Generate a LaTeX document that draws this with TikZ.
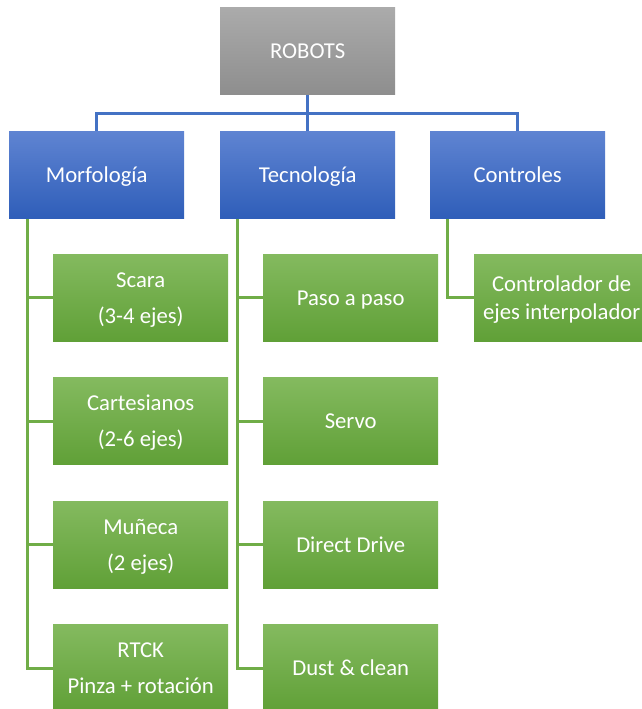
\documentclass[tikz,border=0pt]{standalone}
\usepackage{fontspec}
\usetikzlibrary{backgrounds}
\setmainfont{Carlito}
\definecolor{grayT}{HTML}{ABABAB}
\definecolor{grayB}{HTML}{8E8E8E}
\definecolor{blueT}{HTML}{5F84D2}
\definecolor{blueB}{HTML}{2F5EB9}
\definecolor{greenT}{HTML}{84BA5F}
\definecolor{greenB}{HTML}{60A037}
\definecolor{blueLine}{HTML}{4472C4}
\definecolor{greenLine}{HTML}{70AD47}
\newcommand{\ms}{\rule[-6.1pt]{0pt}{27pt}}
\begin{document}
\begin{tikzpicture}[x=1pt,y=-1pt,
  box/.style={minimum width=175pt,minimum height=87pt,inner sep=0pt,anchor=north west,
    text=white,font=\fontsize{22.7}{27}\selectfont,align=center},
  rootbox/.style={box,top color=grayT,bottom color=grayB},
  catbox/.style={box,top color=blueT,bottom color=blueB},
  leafbox/.style={box,top color=greenT,bottom color=greenB},
  blueline/.style={draw=blueLine,line width=3pt},
  greenline/.style={draw=greenLine,line width=3pt}]
\useasboundingbox (0,0) rectangle (642,709);
\clip (0,0) rectangle (642,709);
\node[rootbox] (robots) at (220,7) {\ms ROBOTS};
\node[catbox] (morf) at (9,131) {\ms Morfología};
\node[catbox] (tec) at (220,131) {\ms Tecnología};
\node[catbox] (ctrl) at (430,131) {\ms Controles};
\node[leafbox] (scara) at (53,254) {\ms Scara\\[9pt]\ms(3-4 ejes)};
\node[leafbox] (cart) at (53,377.5) {\ms Cartesianos\\[9pt]\ms(2-6 ejes)};
\node[leafbox] (mun) at (53,501) {\ms Muñeca\\[9pt]\ms(2 ejes)};
\node[leafbox] (rtck) at (53,624.5) {\ms RTCK\\[9pt]\ms Pinza + rotación};
\node[leafbox] (paso) at (263,254) {\ms Paso a paso};
\node[leafbox] (servo) at (263,377.5) {\ms Servo};
\node[leafbox] (dd) at (263,501) {\ms Direct Drive};
\node[leafbox] (dust) at (263,624.5) {\ms Dust \& clean};
\node[leafbox] (cei) at (474,254) {\ms Controlador de\\[1pt]\ms ejes interpolador};
\begin{pgfonlayer}{background}
\draw[blueline] (robots.south) -- ++(0,19) -| (morf.north);
\draw[blueline] (robots.south) -- ++(0,19) -| (ctrl.north);
\draw[blueline] (robots.south) -- (tec.north);
\end{pgfonlayer}
\foreach \c in {scara,cart,mun,rtck}
  \draw[greenline] ([xshift=18pt,yshift=-1pt]morf.south west) |- (\c.west);
\foreach \c in {paso,servo,dd,dust}
  \draw[greenline] ([xshift=17pt,yshift=-1pt]tec.south west) |- (\c.west);
\draw[greenline] ([xshift=17pt,yshift=-1pt]ctrl.south west) |- (cei.west);
\end{tikzpicture}
\end{document}
